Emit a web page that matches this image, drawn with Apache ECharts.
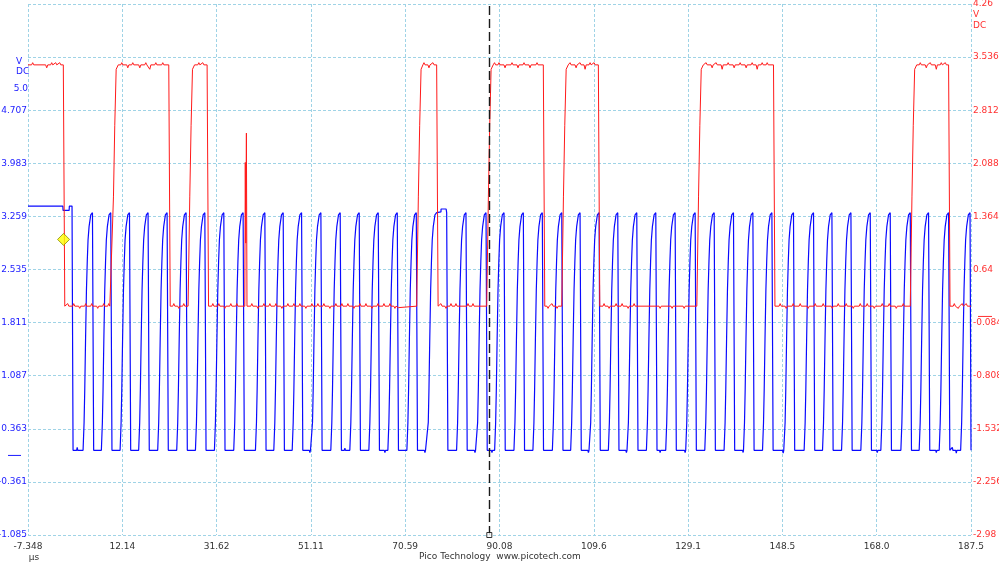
<!DOCTYPE html>
<html><head><meta charset="utf-8">
<script src="https://cdn.jsdelivr.net/npm/echarts@6/dist/echarts.min.js"></script>
<style>html,body{margin:0;padding:0;background:#fff}#c{width:999px;height:562px}</style>
</head><body><div id="c"></div><script>
// ---------- axes / tick labels ----------
const xMin = -7.348, xMax = 187.5, xStep = 19.4848;
const leftMin = -1.085, leftMax = 6.155, leftStep = 0.724;
const rightMin = -2.98, rightMax = 4.26, rightStep = 0.724;
const xTickLabels = ['-7.348','12.14','31.62','51.11','70.59','90.08','109.6','129.1','148.5','168.0','187.5'];
const leftTickLabels = ['-1.085','-0.361','0.363','1.087','1.811','2.535','3.259','3.983','4.707','',''];
const rightTickLabels = ['-2.98','-2.256','-1.532','-0.808','-0.084','0.64','1.364','2.088','2.812','3.536','4.26'];
const leftExtraLabel = 5.0;

// ---------- channel B (blue, left axis), times in µs, volts ----------
const blueStart = [[-7.348,3.40],[-6.45,3.40],[-6.38,3.42],[-6.30,3.40],[-5.0,3.40],[-4.92,3.42],[-4.85,3.40],
  [-3.35,3.40],[-3.28,3.42],[-3.20,3.40],[-2.2,3.40],[-2.12,3.42],[-2.05,3.40],[-1.2,3.40],[-1.12,3.42],[-1.05,3.40],
  [-0.15,3.40],[-0.10,3.34],[1.15,3.34],[1.20,3.40],[1.75,3.40],[1.96,0.07]];
const blueRise = [4.03,7.81,11.68,15.52,19.45,23.38,27.25,31.17,35.16,39.65,43.44,47.24,51.23,55.22,59.15,63.08,67.01,70.94,
  75.15,81.21,85.35,89.07,93.06,96.98,101.00,104.78,108.71,112.57,116.50,120.43,124.42,128.56,132.49,136.48,140.49,144.42,
  148.88,153.02,156.82,160.75,164.74,168.87,173.01,176.79,180.93,185.36];
const blueFall = [5.97,9.75,13.62,17.46,21.39,25.32,29.19,33.11,37.10,41.59,45.38,49.18,53.17,57.16,61.09,65.02,68.95,72.88,
  79.16,83.15,87.29,91.01,95.00,98.92,102.94,106.72,110.65,114.51,118.44,122.37,126.36,130.50,134.43,138.42,142.43,146.36,
  150.82,154.96,158.76,162.69,166.68,170.81,174.95,178.73,182.87,187.30];
const blueRiseDt = [0,0.21,0.35,0.52,0.70,0.87,1.03,1.24,1.59,1.94];
const blueRiseV  = [0.07,0.45,0.90,1.60,2.26,2.65,2.94,3.12,3.28,3.31];
const blueHigh = 3.31, blueLow = 0.07, blueFallDur = 0.25;
const blueExtra = [[77.98,3.32],[78.0,3.36],[79.05,3.36],[187.5,0.07]];
const blueNoise = [[2.82,0.11],[50.90,0.04],[58.13,0.10],[66.40,0.04],[74.67,0.04],[85.01,0.04],[88.52,0.04],
  [108.45,0.04],[116.30,0.04],[123.26,0.04],[128.43,0.04],[140.42,0.04],[148.69,0.03],[168.13,0.04],[180.33,0.04],
  [183.64,0.11],[184.46,0.03]];

// ---------- channel A (red, right axis) ----------
const redHigh = 3.43, redLow = 0.14, redFallDur = 0.3;
const redFalls = [-0.05,21.74,29.66,77.09,99.13,110.50,146.69,182.87];
const redRises = [9.96,25.73,72.96,87.43,102.94,130.85,174.95];
const redRiseDt = [0,0.35,0.62,0.91,1.34];
const redRiseV  = [0.14,1.63,2.60,3.37,3.43];
const redExtra = [[-7.348,3.43],[37.45,0.14],[37.55,2.10],[37.65,1.00],[37.78,2.50],[37.90,0.14],
  [69.10,0.14],[69.20,0.12],[187.5,0.14]];
const redNotches = [
  [-6.38,3.46],[-3.48,3.39],[-2.45,3.46],[-1.62,3.46],[-0.79,3.46],
  [12.03,3.46],[13.27,3.39],[14.30,3.46],[15.75,3.39],[16.99,3.46],[17.82,3.37],[19.06,3.46],[20.50,3.46],
  [27.95,3.46],[28.77,3.46],
  [74.47,3.46],[75.50,3.39],[76.33,3.46],
  [89.05,3.46],[89.97,3.46],[91.22,3.39],[92.66,3.46],[93.90,3.39],[95.14,3.46],[96.38,3.39],[97.83,3.46],
  [104.65,3.46],[105.90,3.39],[106.72,3.46],[107.76,3.37],[108.79,3.46],[109.62,3.46],
  [132.77,3.46],[134.01,3.39],[134.84,3.46],[136.08,3.37],[137.32,3.46],[138.56,3.39],[139.80,3.46],[141.04,3.39],
  [142.28,3.46],[143.32,3.37],[144.35,3.46],[145.39,3.46],
  [177.02,3.46],[178.26,3.39],[179.09,3.46],[180.33,3.37],[181.36,3.46],[182.19,3.46],
  [0.86,0.175],[2.10,0.175],[3.34,0.11],[4.58,0.175],[5.82,0.175],[7.06,0.11],[8.30,0.175],[9.34,0.175],
  [22.78,0.175],[23.81,0.11],[24.84,0.175],
  [30.84,0.175],[32.08,0.175],[33.32,0.11],[34.56,0.175],[35.80,0.175],[38.90,0.175],[40.15,0.11],[41.39,0.175],
  [42.63,0.175],[43.87,0.175],[45.11,0.11],[46.35,0.175],[47.59,0.175],[48.83,0.175],[50.07,0.11],[51.31,0.175],
  [52.55,0.175],[53.79,0.175],[55.03,0.11],[56.27,0.175],[57.51,0.175],[58.75,0.175],[59.99,0.11],[61.24,0.175],
  [62.48,0.175],[63.72,0.11],[64.96,0.175],[66.20,0.175],[67.44,0.175],[68.47,0.11],
  [77.98,0.175],[79.02,0.11],[80.05,0.175],[81.08,0.175],[83.57,0.175],[84.60,0.175],
  [100.11,0.11],[100.93,0.175],[101.97,0.11],
  [111.68,0.175],[112.72,0.11],[114.17,0.175],[115.41,0.175],[116.65,0.11],[117.89,0.175],[123.26,0.11],[125.74,0.11],[128.23,0.11],
  [148.07,0.175],[149.31,0.11],[150.76,0.175],[152.21,0.175],[153.86,0.11],[155.31,0.175],[156.96,0.175],[158.83,0.11],
  [160.07,0.175],[161.72,0.175],[163.17,0.11],[164.62,0.175],[166.06,0.175],[167.51,0.11],[169.16,0.175],[170.61,0.175],
  [172.06,0.11],[173.51,0.175],
  [184.05,0.175],[184.88,0.11],[185.70,0.175],[186.53,0.175]];

const triggerPoint = [0, 1.05];
const cursorTime = 87.97;

// ---------- build series data ----------
function byT(a,b){return a[0]-b[0];}
const bluePts = blueStart.slice();
for (let i=0;i<blueFall.length;i++){
  for (let k=0;k<blueRiseDt.length;k++) bluePts.push([+(blueRise[i]+blueRiseDt[k]).toFixed(3), blueRiseV[k]]);
  bluePts.push([blueFall[i], blueHigh]);
  bluePts.push([+(blueFall[i]+blueFallDur).toFixed(3), blueLow]);
}
blueExtra.forEach(p=>bluePts.push(p));
blueNoise.forEach(p=>{bluePts.push([p[0]-0.12,blueLow]);bluePts.push(p);bluePts.push([p[0]+0.12,blueLow]);});
bluePts.sort(byT);

const redPts = [];
redFalls.forEach(t=>{redPts.push([t,redHigh]);redPts.push([+(t+redFallDur).toFixed(3),redLow]);});
redRises.forEach(t=>{for(let k=0;k<redRiseDt.length;k++) redPts.push([+(t+redRiseDt[k]).toFixed(3),redRiseV[k]]);});
redExtra.forEach(p=>redPts.push(p));
redNotches.forEach(p=>{const b=p[1]>2?redHigh:redLow;redPts.push([p[0]-0.22,b]);redPts.push(p);redPts.push([p[0]+0.22,b]);});
redPts.sort(byT);

// ---------- chart ----------
const FONT = 'DejaVu Sans';
const chart = echarts.init(document.getElementById('c'), null, {renderer:'canvas'});
const idx = (v,min,step)=>Math.round((v-min)/step);
chart.setOption({
  animation:false,
  backgroundColor:'#ffffff',
  grid:{left:28,right:28,top:4,bottom:27,containLabel:false,outerBoundsMode:'none'},
  xAxis:{type:'value',min:xMin,max:xMax,interval:xStep,
    axisLine:{show:false},axisTick:{show:false},
    splitLine:{show:true,lineStyle:{color:'#9fd3e6',width:1,type:[3,2]}},
    axisLabel:{showMinLabel:true,showMaxLabel:true,color:'#333',fontSize:9,fontFamily:FONT,margin:7,hideOverlap:false,
      formatter:v=>xTickLabels[idx(v,xMin,xStep)]||''}},
  yAxis:[
    {type:'value',min:leftMin,max:leftMax,interval:leftStep,position:'left',
      axisLine:{show:false},axisTick:{show:false},
      splitLine:{show:true,lineStyle:{color:'#9fd3e6',width:1,type:[3,2]}},
      axisLabel:{showMinLabel:true,showMaxLabel:true,color:'#1a1aff',fontSize:9,fontFamily:FONT,margin:1,
        formatter:v=>leftTickLabels[idx(v,leftMin,leftStep)]||''}},
    {type:'value',min:rightMin,max:rightMax,interval:rightStep,position:'right',
      axisLine:{show:false},axisTick:{show:false},splitLine:{show:false},
      axisLabel:{showMinLabel:true,showMaxLabel:true,color:'#ff3030',fontSize:9,fontFamily:FONT,margin:2,
        formatter:v=>rightTickLabels[idx(v,rightMin,rightStep)]||''}}
  ],
  series:[
    {type:'line',name:'B',yAxisIndex:0,data:bluePts,showSymbol:false,symbol:'none',sampling:null,
      lineStyle:{color:'#0a0aff',width:1.2},z:2,silent:true},
    {type:'line',name:'A',yAxisIndex:1,data:redPts,showSymbol:false,symbol:'none',
      lineStyle:{color:'#ff1a1a',width:1},z:3,silent:true,
      markLine:{silent:true,symbol:'none',label:{show:false},
        lineStyle:{color:'#1a1a1a',width:1.4,type:[9,4]},data:[{xAxis:cursorTime}]}},
    {type:'scatter',yAxisIndex:1,data:[triggerPoint],symbol:'diamond',symbolSize:[12,12],
      itemStyle:{color:'#ffff00',borderColor:'#8c8c00',borderWidth:1},z:5,silent:true},
    {type:'scatter',yAxisIndex:0,data:[[cursorTime,leftMin]],symbol:'rect',symbolSize:5,clip:false,
      itemStyle:{color:'#ffffff',borderColor:'#000',borderWidth:1},z:6,silent:true}
  ]
});

const y5 = chart.convertToPixel({yAxisIndex:0}, leftExtraLabel);
const yZeroL = chart.convertToPixel({yAxisIndex:0}, 0);
const yZeroR = chart.convertToPixel({yAxisIndex:1}, 0);
chart.setOption({graphic:[
  {type:'text',left:16,top:57,style:{text:'V',fill:'#1a1aff',font:'9px '+FONT}},
  {type:'text',left:16,top:67,style:{text:'DC',fill:'#1a1aff',font:'9px '+FONT}},
  {type:'text',x:28,y:y5,style:{text:'5.0',fill:'#1a1aff',font:'9px '+FONT,textAlign:'right',textVerticalAlign:'middle'}},
  {type:'text',left:973,top:10,style:{text:'V',fill:'#ff3030',font:'9px '+FONT}},
  {type:'text',left:973,top:21,style:{text:'DC',fill:'#ff3030',font:'9px '+FONT}},
  {type:'line',shape:{x1:8,y1:yZeroL,x2:21,y2:yZeroL},style:{stroke:'#1a1aff',lineWidth:1}},
  {type:'line',shape:{x1:978,y1:yZeroR,x2:992,y2:yZeroR},style:{stroke:'#ff3030',lineWidth:1}},
  {type:'text',x:34,y:558,style:{text:'µs',fill:'#333',font:'9px '+FONT,textAlign:'center',textVerticalAlign:'middle'}},
  {type:'text',x:500,y:557,style:{text:'Pico Technology  www.picotech.com',fill:'#333',font:'9px '+FONT,textAlign:'center',textVerticalAlign:'middle'}}
]});
</script></body></html>
